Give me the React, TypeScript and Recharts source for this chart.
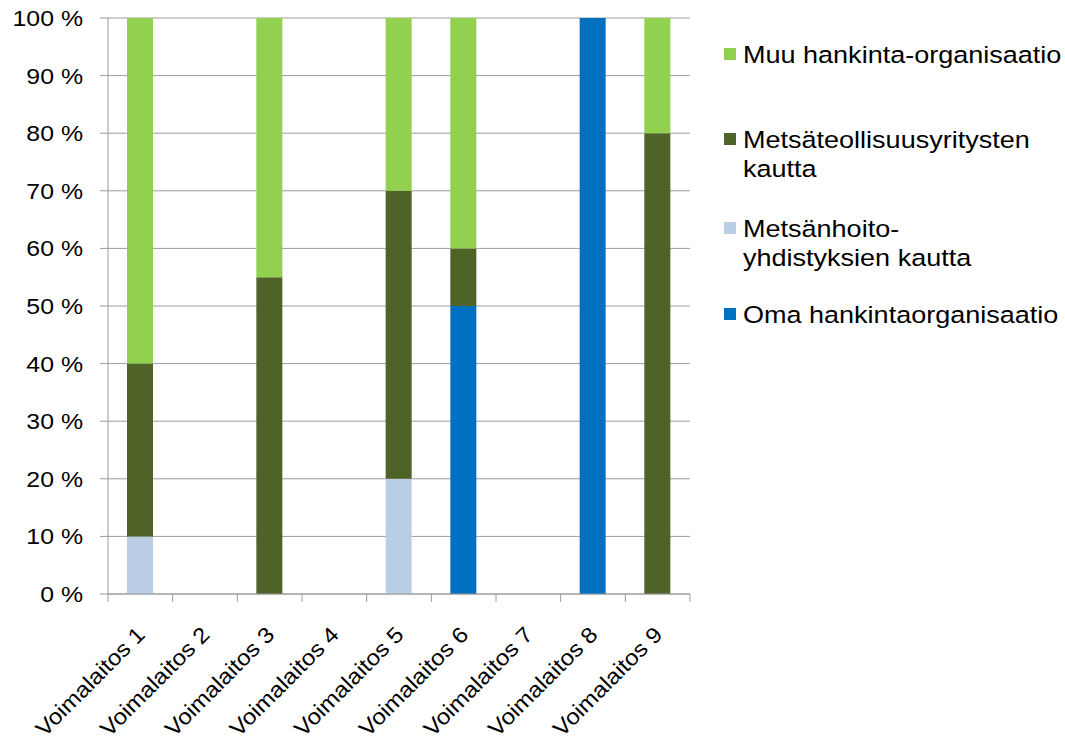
import { BarChart, Bar, XAxis, YAxis, CartesianGrid } from "recharts"

const plants = [
  "Voimalaitos 1",
  "Voimalaitos 2",
  "Voimalaitos 3",
  "Voimalaitos 4",
  "Voimalaitos 5",
  "Voimalaitos 6",
  "Voimalaitos 7",
  "Voimalaitos 8",
  "Voimalaitos 9",
]

// shares in percent, stacked bottom-up in this order
const oma = [0, 0, 0, 0, 0, 50, 0, 100, 0]
const metsanhoito = [10, 0, 0, 0, 20, 0, 0, 0, 0]
const metsateollisuus = [30, 0, 55, 0, 50, 10, 0, 0, 80]
const muu = [60, 0, 45, 0, 30, 40, 0, 0, 20]

const yTicks = [0, 10, 20, 30, 40, 50, 60, 70, 80, 90, 100]

const series = [
  { key: "oma", name: ["Oma hankintaorganisaatio"], color: "#0070C0", values: oma },
  { key: "metsanhoito", name: ["Metsänhoito-", "yhdistyksien kautta"], color: "#B9CDE5", values: metsanhoito },
  { key: "metsateollisuus", name: ["Metsäteollisuusyritysten", "kautta"], color: "#4F6228", values: metsateollisuus },
  { key: "muu", name: ["Muu hankinta-organisaatio"], color: "#92D050", values: muu },
]

const data = plants.map((plant, i) => {
  const row: Record<string, string | number> = { plant }
  series.forEach((s) => {
    row[s.key] = s.values[i]
  })
  return row
})

const FONT = "'Liberation Sans', Arial, sans-serif"
const STRETCH = 1.13
const GRID = "#9C9C9C"

function YTick({ y, payload }: any) {
  return (
    <g transform={`translate(83,${y}) scale(${STRETCH},1)`}>
      <text textAnchor="end" dy="0.36em" fontSize={22} fontFamily={FONT} fill="#000">
        {`${payload.value} %`}
      </text>
    </g>
  )
}

function XTick({ x, y, payload, index, visibleTicksCount }: any) {
  const half = payload.offset ?? 0
  const axisY = y - 2
  return (
    <g>
      <line x1={x - half} x2={x - half} y1={axisY} y2={axisY + 8} stroke={GRID} />
      {index === visibleTicksCount - 1 && (
        <line x1={x + half} x2={x + half} y1={axisY} y2={axisY + 8} stroke={GRID} />
      )}
      <g transform={`translate(${x + 6},${axisY + 42}) rotate(-45) scale(1.1,1)`}>
        <text textAnchor="end" fontSize={22} fontFamily={FONT} fill="#000">
          {payload.value}
        </text>
      </g>
    </g>
  )
}

const legendRows = [
  { s: series[3], top: 63 },
  { s: series[2], top: 148 },
  { s: series[1], top: 237 },
  { s: series[0], top: 323 },
]

function ChartLegend() {
  return (
    <svg width={1065} height={749} style={{ position: "absolute", left: 0, top: 0, pointerEvents: "none" }}>
      {legendRows.map(({ s, top }) => (
        <g key={s.key}>
          <rect x={724} y={top - 15} width={12} height={12} fill={s.color} />
          {s.name.map((line, j) => (
            <g key={j} transform={`translate(743,${top + j * 29}) scale(1.15,1)`}>
              <text fontSize={23.5} fontFamily={FONT} fill="#000">
                {line}
              </text>
            </g>
          ))}
        </g>
      ))}
    </svg>
  )
}

export default function App() {
  return (
    <div style={{ position: "absolute", left: 0, top: 0, width: 1065, height: 749, background: "#fff" }}>
      <BarChart
        width={1065}
        height={749}
        data={data}
        margin={{ top: 18, right: 375, bottom: 0, left: 0 }}
        barCategoryGap={0}
      >
        <CartesianGrid vertical={false} stroke={GRID} />
        <XAxis
          dataKey="plant"
          height={155}
          axisLine={{ stroke: GRID }}
          tickLine={false}
          tickMargin={2}
          tickSize={0}
          interval={0}
          tick={<XTick />}
        />
        <YAxis
          width={108}
          domain={[0, 100]}
          ticks={yTicks}
          interval={0}
          axisLine={{ stroke: GRID }}
          tickLine={{ stroke: GRID }}
          tickSize={8}
          tick={<YTick />}
        />
        {series.map((s) => (
          <Bar key={s.key} dataKey={s.key} stackId="a" fill={s.color} barSize={26} isAnimationActive={false} />
        ))}
      </BarChart>
      <ChartLegend />
    </div>
  )
}
